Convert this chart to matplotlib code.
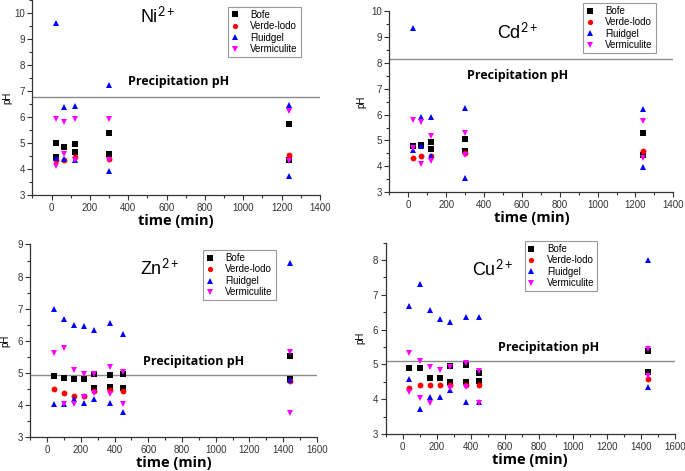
import matplotlib
matplotlib.use('Agg')
import matplotlib.pyplot as plt
from matplotlib.ticker import MultipleLocator

plt.rcParams['font.family'] = ['Liberation Sans', 'DejaVu Sans']
plt.rcParams['mathtext.fontset'] = 'custom'
plt.rcParams['mathtext.rm'] = 'Lato'
plt.rcParams['mathtext.default'] = 'rm'

series_names = ['Bofe', 'Verde-lodo', 'Fluidgel', 'Vermiculite']

# Ni2+
ni_time = [25, 65, 120, 300, 1240]
ni_bofe = [[5.02, 4.48], [4.84], [4.95, 4.66], [5.40, 4.57], [5.75, 4.33]]
ni_verde = [[4.35], [4.35], [4.48], [4.40], [4.53]]
ni_fluid = [[9.62, 4.42], [6.40, 4.39], [6.43, 4.35], [7.23, 3.93], [6.45, 3.75]]
ni_verm = [[5.92, 4.13], [5.80, 4.57], [5.92, 4.35], [5.92, 4.33], [6.25, 4.32]]

# Cd2+
cd_time = [25, 65, 120, 300, 1240]
cd_bofe = [[4.79], [4.81], [4.95, 4.67], [5.05, 4.60], [5.28, 4.43]]
cd_verde = [[4.34], [4.40], [4.40], [4.50], [4.59]]
cd_fluid = [[9.33, 4.63], [5.92, 4.80], [5.92, 4.41], [6.24, 3.57], [6.20, 3.97]]
cd_verm = [[5.79, 4.70], [5.70, 4.08], [5.19, 4.22], [5.30, 4.44], [5.75, 4.34]]

# Zn2+
zn_time = [40, 100, 160, 220, 280, 370, 450, 1440]
zn_bofe = [[4.91], [4.84], [4.80], [4.80], [4.96, 4.53], [4.93, 4.55], [4.96, 4.53], [5.53, 4.82]]
zn_verde = [[4.51], [4.39], [4.29], [4.29], [4.45], [4.46], [4.45], [4.74]]
zn_fluid = [[7.00, 4.04], [6.67, 4.04], [6.48, 4.18], [6.47, 4.06], [6.33, 4.19],
            [6.55, 4.06], [6.20, 3.80], [8.42, 4.78]]
zn_verm = [[5.62], [5.78, 4.04], [5.09, 4.03], [4.98, 4.26], [4.98, 4.38],
           [5.19, 4.35], [5.02, 4.03], [5.65, 3.75]]

# Cu2+
cu_time = [40, 100, 160, 220, 280, 370, 450, 1440]
cu_bofe = [[4.91], [4.91], [4.62], [4.62], [4.96, 4.49], [4.97, 4.49], [4.74, 4.52], [5.37, 4.78]]
cu_verde = [[4.31], [4.41], [4.41], [4.41], [4.41], [4.41], [4.41], [4.57]]
cu_fluid = [[6.68, 4.58], [7.30, 3.72], [6.56, 4.05], [6.30, 4.05], [6.23, 4.26],
            [6.37, 3.93], [6.37, 3.92], [8.00, 4.36]]
cu_verm = [[5.32, 4.22], [5.11, 4.02], [4.92, 3.88], [4.84], [4.93, 4.31],
           [5.03, 4.35], [4.80, 3.88], [5.43, 4.68]]

precip_ph = [6.77, 8.15, 4.94, 5.10]

styles = [('s', 'black'), ('o', 'red'), ('^', 'blue'), ('v', '#ff00ff')]


def expand(times, values):
    xs, ys = [], []
    for t, vals in zip(times, values):
        for v in vals:
            xs.append(t)
            ys.append(v)
    return xs, ys


panels = [
    dict(pos=[0.0472, 0.586, 0.420, 0.4134], time=ni_time,
         data=[ni_bofe, ni_verde, ni_fluid, ni_verm], ylim=(3, 10.5), yt=range(3, 11),
         xmax=1400, ion='Ni$^{2+}$', ion_xy=(556, 9.87), prec=precip_ph[0],
         prec_xy=(660, 7.39), leg=(0.68, 0.967), ypad=1.0),
    dict(pos=[0.5685, 0.5917, 0.4145, 0.385], time=cd_time,
         data=[cd_bofe, cd_verde, cd_fluid, cd_verm], ylim=(3, 10), yt=range(3, 11),
         xmax=1400, ion='Cd$^{2+}$', ion_xy=(579, 9.17), prec=precip_ph[1],
         prec_xy=(579, 7.5), leg=(0.682, 1.044), ypad=3),
    dict(pos=[0.0445, 0.0716, 0.4178, 0.4093], time=zn_time,
         data=[zn_bofe, zn_verde, zn_fluid, zn_verm], ylim=(3, 9), yt=range(3, 10),
         xmax=1600, ion='Zn$^{2+}$', ion_xy=(669, 8.25), prec=precip_ph[2],
         prec_xy=(867, 5.36), leg=(0.603, 0.971), ypad=5),
    dict(pos=[0.563, 0.0786, 0.4223, 0.4064], time=cu_time,
         data=[cu_bofe, cu_verde, cu_fluid, cu_verm], ylim=(3, 8.5), yt=range(3, 9),
         xmax=1600, ion='Cu$^{2+}$', ion_xy=(532, 7.74), prec=precip_ph[3],
         prec_xy=(857, 5.49), leg=(0.48, 1.008), ypad=5),
]

fig = plt.figure(figsize=(6.85, 4.71), dpi=100)

for p in panels:
    ax = fig.add_axes(p['pos'])
    for (marker, color), name, vals in zip(styles, series_names, p['data']):
        xs, ys = expand(p['time'], vals)
        ax.plot(xs, ys, linestyle='none', marker=marker, color=color, ms=4.2,
                markeredgewidth=0, label=name)
    ax.axhline(p['prec'], color='#8c8c8c', lw=1.0, zorder=0)
    ax.set_xlim(-100, p['xmax'])
    ax.set_ylim(*p['ylim'])
    ax.set_yticks(list(p['yt']))
    ax.xaxis.set_major_locator(MultipleLocator(200))
    ax.xaxis.set_minor_locator(MultipleLocator(100))
    ax.yaxis.set_minor_locator(MultipleLocator(0.5))
    ax.tick_params(which='major', direction='out', length=3.5, width=0.8, labelsize=7, pad=2,
                   colors='#333333')
    ax.tick_params(which='minor', direction='out', length=2, width=0.8, colors='#333333')
    for s in ['top', 'right']:
        ax.spines[s].set_visible(False)
    for s in ['left', 'bottom']:
        ax.spines[s].set_color('#333333')
        ax.spines[s].set_linewidth(0.9)
    ax.set_xlabel('time (min)', fontsize=10.5, fontweight='bold', family='Open Sans', labelpad=1)
    ax.set_ylabel('pH', fontsize=7, labelpad=p['ypad'])
    ax.text(*p['ion_xy'], p['ion'], fontsize=13, ha='center', va='center')
    ax.text(*p['prec_xy'], 'Precipitation pH', fontsize=9, fontweight='bold',
            family='Open Sans', ha='center', va='center')
    leg = ax.legend(loc='upper left', bbox_to_anchor=p['leg'], fontsize=7, frameon=True,
                    fancybox=False, borderpad=0.3, labelspacing=0.15, handlelength=0.8,
                    handletextpad=1.2, borderaxespad=0, markerscale=0.9)
    leg.get_frame().set_edgecolor('#808080')
    leg.get_frame().set_linewidth(0.8)

fig.savefig('out.png', dpi=100)
